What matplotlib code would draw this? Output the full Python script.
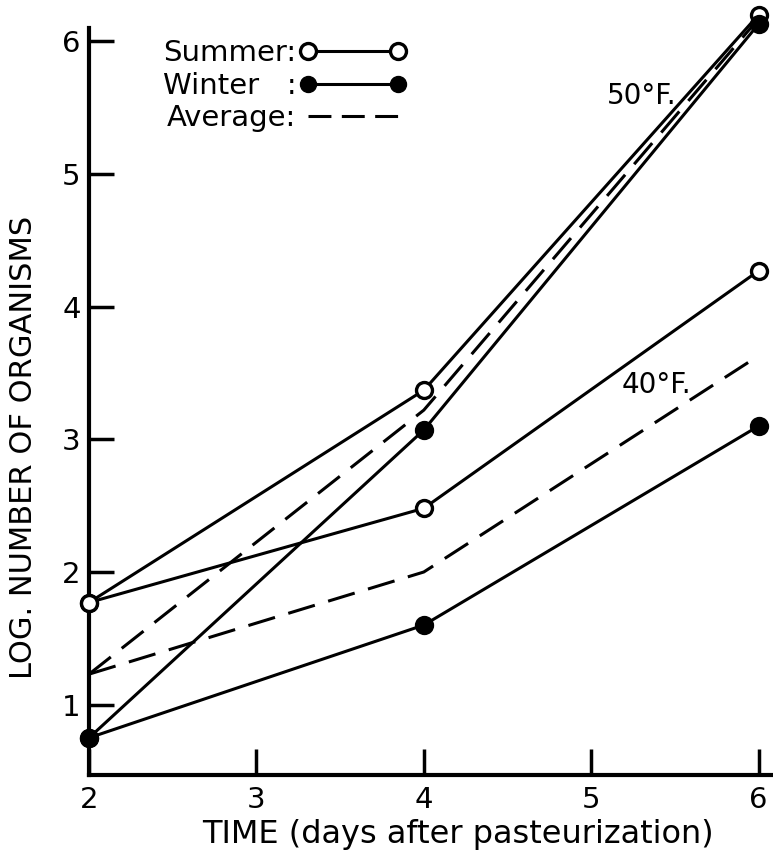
import matplotlib
matplotlib.use("Agg")
import matplotlib.pyplot as plt
from matplotlib.lines import Line2D

plt.rcParams['font.family'] = ['DejaVu Sans']
plt.rcParams['lines.scale_dashes'] = False

days = [2, 4, 6]
summer_50 = [1.77, 3.37, 6.20]
winter_50 = [0.75, 3.07, 6.13]
average_50 = [1.23, 3.22, 6.17]
summer_40 = [1.77, 2.48, 4.27]
winter_40 = [0.75, 1.60, 3.10]
average_40 = [1.23, 2.00, 3.63]

x_ticks = [2, 3, 4, 5, 6]
y_ticks = [1, 2, 3, 4, 5, 6]

fig = plt.figure(figsize=(7.73, 8.61), dpi=100)
ax = fig.add_axes([89/773, 86/861, (772-89)/773, (833-86)/861])

lw = 2.2
ms = 11.5
dash = (20, 10)

def solid(y, filled):
    ax.plot(days, y, color='black', lw=lw, marker='o', ms=ms,
            markerfacecolor='black' if filled else 'white',
            markeredgecolor='black', markeredgewidth=2.4, clip_on=False, zorder=4)

solid(summer_50, False)
solid(winter_50, True)
solid(summer_40, False)
solid(winter_40, True)
for y in (average_50, average_40):
    ax.plot(days, y, color='black', lw=lw, dashes=dash, clip_on=False, zorder=3)

ax.text(5.30, 5.59, '50°F.', fontsize=20, ha='center', va='center')
ax.text(5.39, 3.41, '40°F.', fontsize=20, ha='center', va='center')

ax.set_xlim(2, 6.08)
ax.set_ylim(0.47, 6.1)
for s in ('top', 'right'):
    ax.spines[s].set_visible(False)
for s in ('left', 'bottom'):
    ax.spines[s].set_linewidth(3)
ax.set_xticks(x_ticks)
ax.set_yticks(y_ticks)
ax.tick_params(axis='x', direction='in', length=19, width=2.5, labelsize=21, pad=8)
ax.tick_params(axis='y', direction='in', length=18, width=2.5, labelsize=21, pad=6)
ax.set_xlabel('TIME (days after pasteurization)', fontsize=23)
ax.xaxis.set_label_coords(0.54, -0.059)
ax.set_ylabel('LOG. NUMBER OF ORGANISMS', fontsize=22)
ax.yaxis.set_label_coords(-0.074, 0.439)

handles = [
    Line2D([], [], color='black', lw=lw, marker='o', ms=ms, markerfacecolor='white',
           markeredgecolor='black', markeredgewidth=2.4),
    Line2D([], [], color='black', lw=lw, marker='o', ms=ms, markerfacecolor='black',
           markeredgecolor='black'),
    Line2D([], [], color='black', lw=lw, dashes=(16.5, 7.5)),
]
labels = ['Summer:', 'Winter   :', 'Average:']
leg = ax.legend(handles, labels, loc='upper left', bbox_to_anchor=(0.078, 1.012),
                frameon=False, markerfirst=False, numpoints=2,
                prop={'size': 21},
                handlelength=3.68, handletextpad=0.1, labelspacing=0.15, borderpad=0.2)

fig.savefig('out.png', dpi=100)
